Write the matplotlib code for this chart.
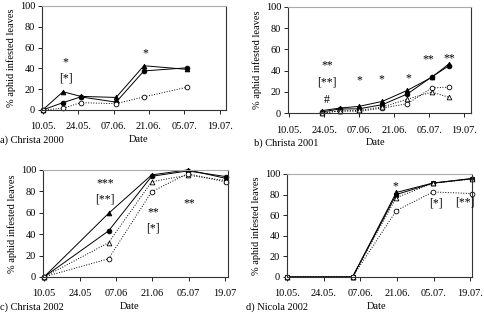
import matplotlib
matplotlib.use("Agg")
from matplotlib import pyplot as plt

plt.rcParams['font.family'] = ['Liberation Serif', 'DejaVu Serif']
plt.rcParams['font.size'] = 7.5

# x = days after 10.05.
tick_days = [0, 14, 28, 42, 56, 70]
labels_dot = ["10.05.", "24.05.", "07.06.", "21.06.", "05.07.", "19.07."]
labels_nodot = ["10.05", "24.05", "07.06", "21.06", "05.07", "19.07"]

# a) Christa 2000
a_days = [0, 8, 15, 29, 40, 57]
a_tri = [0, 17.5, 13, 12, 42.5, 39]
a_circ = [0, 7, 12.5, 7.5, 37.5, 40.5]
a_ocirc = [0, 1.5, 7, 6, 12.5, 21.8]
a_notes = [(9, 46, "*"), (9, 30, "[*]"), (40.5, 54, "*")]

# b) Christa 2001
b_days = [13, 20.3, 28, 37.3, 47.3, 57, 64]
b_tri = [2.2, 4.7, 6.3, 11, 21.4, 33.6, 46.5]
b_circ = [1, 3.8, 4, 7.9, 18, 34, 44.7]
b_ocirc = [0, 2, 1.6, 4.7, 8.8, 23.6, 24.5]
b_otri = [0, 2, 2.5, 5.7, 13, 19.8, 14.8]
b_notes = [(15.2, 45, "**"), (15.2, 29, "[**]"), (15.2, 12, "#"),
           (28, 31, "*"), (37, 32, "*"), (47.5, 32.5, "*"),
           (55.5, 50.5, "**"), (64, 52, "**")]

# c) Christa 2002
c_days = [0, 25, 41.7, 55.7, 70.6]
c_tri = [0, 59.4, 95.3, 100, 92]
c_circ = [0, 43, 94, 99, 93.7]
c_otri = [0, 32, 89, 95, 90]
c_ocirc = [0, 17, 79.6, 96.5, 88.5]
c_notes = [(23.6, 87.7, "***"), (23.6, 72.6, "[**]"), (42.3, 60.5, "**"),
           (42.3, 45.3, "[*]"), (56.2, 69, "**")]

# d) Nicola 2002
d_days = [0, 25, 41.7, 55.7, 70.6]
d_tri = [0, 0, 82, 91.2, 95.6]
d_circ = [0, 0, 80, 91, 95.4]
d_otri = [0, 0, 77, 91, 95]
d_ocirc = [0, 0, 64.4, 82.5, 81]
d_notes = [(41.3, 88.3, "*"), (56.7, 70.9, "[*]"), (67.8, 71.8, "[**]")]

fig = plt.figure(figsize=(4.85, 3.14), dpi=100)

def panel(rect, xlim, ticklabels, title, title_x, date_x, series, notes):
    ax = fig.add_axes(rect)
    for days, vals, marker, filled, ls in series:
        ax.plot(days, vals, color="black", lw=0.7, ls=ls, marker=marker,
                markersize=3.4, markeredgewidth=0.6,
                markerfacecolor="black" if filled else "white",
                markeredgecolor="black", clip_on=False)
    for x, y, s in notes:
        ax.text(x, y, s, ha="center", va="center", fontsize=8.5)
    ax.set_xlim(*xlim)
    ax.set_ylim(0, 100)
    ax.set_xticks(tick_days)
    ax.set_xticklabels(ticklabels)
    ax.set_yticks([0, 20, 40, 60, 80, 100])
    ax.tick_params(direction="out", length=3, width=0.6, pad=6)
    ax.tick_params(axis="y", pad=2)
    ax.set_ylabel("% aphid infested leaves", labelpad=3)
    for side in ["left", "bottom", "right"]:
        ax.spines[side].set_color("#333333")
        ax.spines[side].set_linewidth(0.8)
    ax.spines["top"].set_color("#aaaaaa")
    ax.spines["top"].set_linewidth(0.8)
    bottom = rect[1]
    fig.text(title_x, bottom - 0.095, title, ha="left", va="center", fontsize=7.5)
    fig.text(date_x, bottom - 0.095, "Date", ha="center", va="center", fontsize=7.5)
    return ax

panel([0.0866, 0.650, 0.379, 0.331], (-0.3, 72.4), labels_dot,
      "a) Christa 2000", 0.001, 0.285,
      [(a_days, a_tri, "^", True, "-"),
       (a_days, a_circ, "o", True, "-"),
       (a_days, a_ocirc, "o", False, ":")],
      a_notes)

panel([0.594, 0.640, 0.377, 0.338], (-0.4, 72.7), labels_dot,
      "b) Christa 2001", 0.523, 0.775,
      [(b_days, b_tri, "^", True, "-"),
       (b_days, b_circ, "o", True, "-"),
       (b_days, b_ocirc, "o", False, ":"),
       (b_days, b_otri, "^", False, ":")],
      b_notes)

panel([0.0887, 0.118, 0.381, 0.341], (-0.4, 71.2), labels_nodot,
      "c) Christa 2002", 0.001, 0.268,
      [(c_days, c_tri, "^", True, "-"),
       (c_days, c_circ, "o", True, "-"),
       (c_days, c_otri, "^", False, ":"),
       (c_days, c_ocirc, "o", False, ":")],
      c_notes)

panel([0.592, 0.118, 0.381, 0.328], (0, 70.6), labels_dot,
      "d) Nicola 2002", 0.507, 0.777,
      [(d_days, d_tri, "^", True, "-"),
       (d_days, d_circ, "s", True, "-"),
       (d_days, d_otri, "^", False, ":"),
       (d_days, d_ocirc, "o", False, ":")],
      d_notes)

fig.savefig("out.png", dpi=100)
